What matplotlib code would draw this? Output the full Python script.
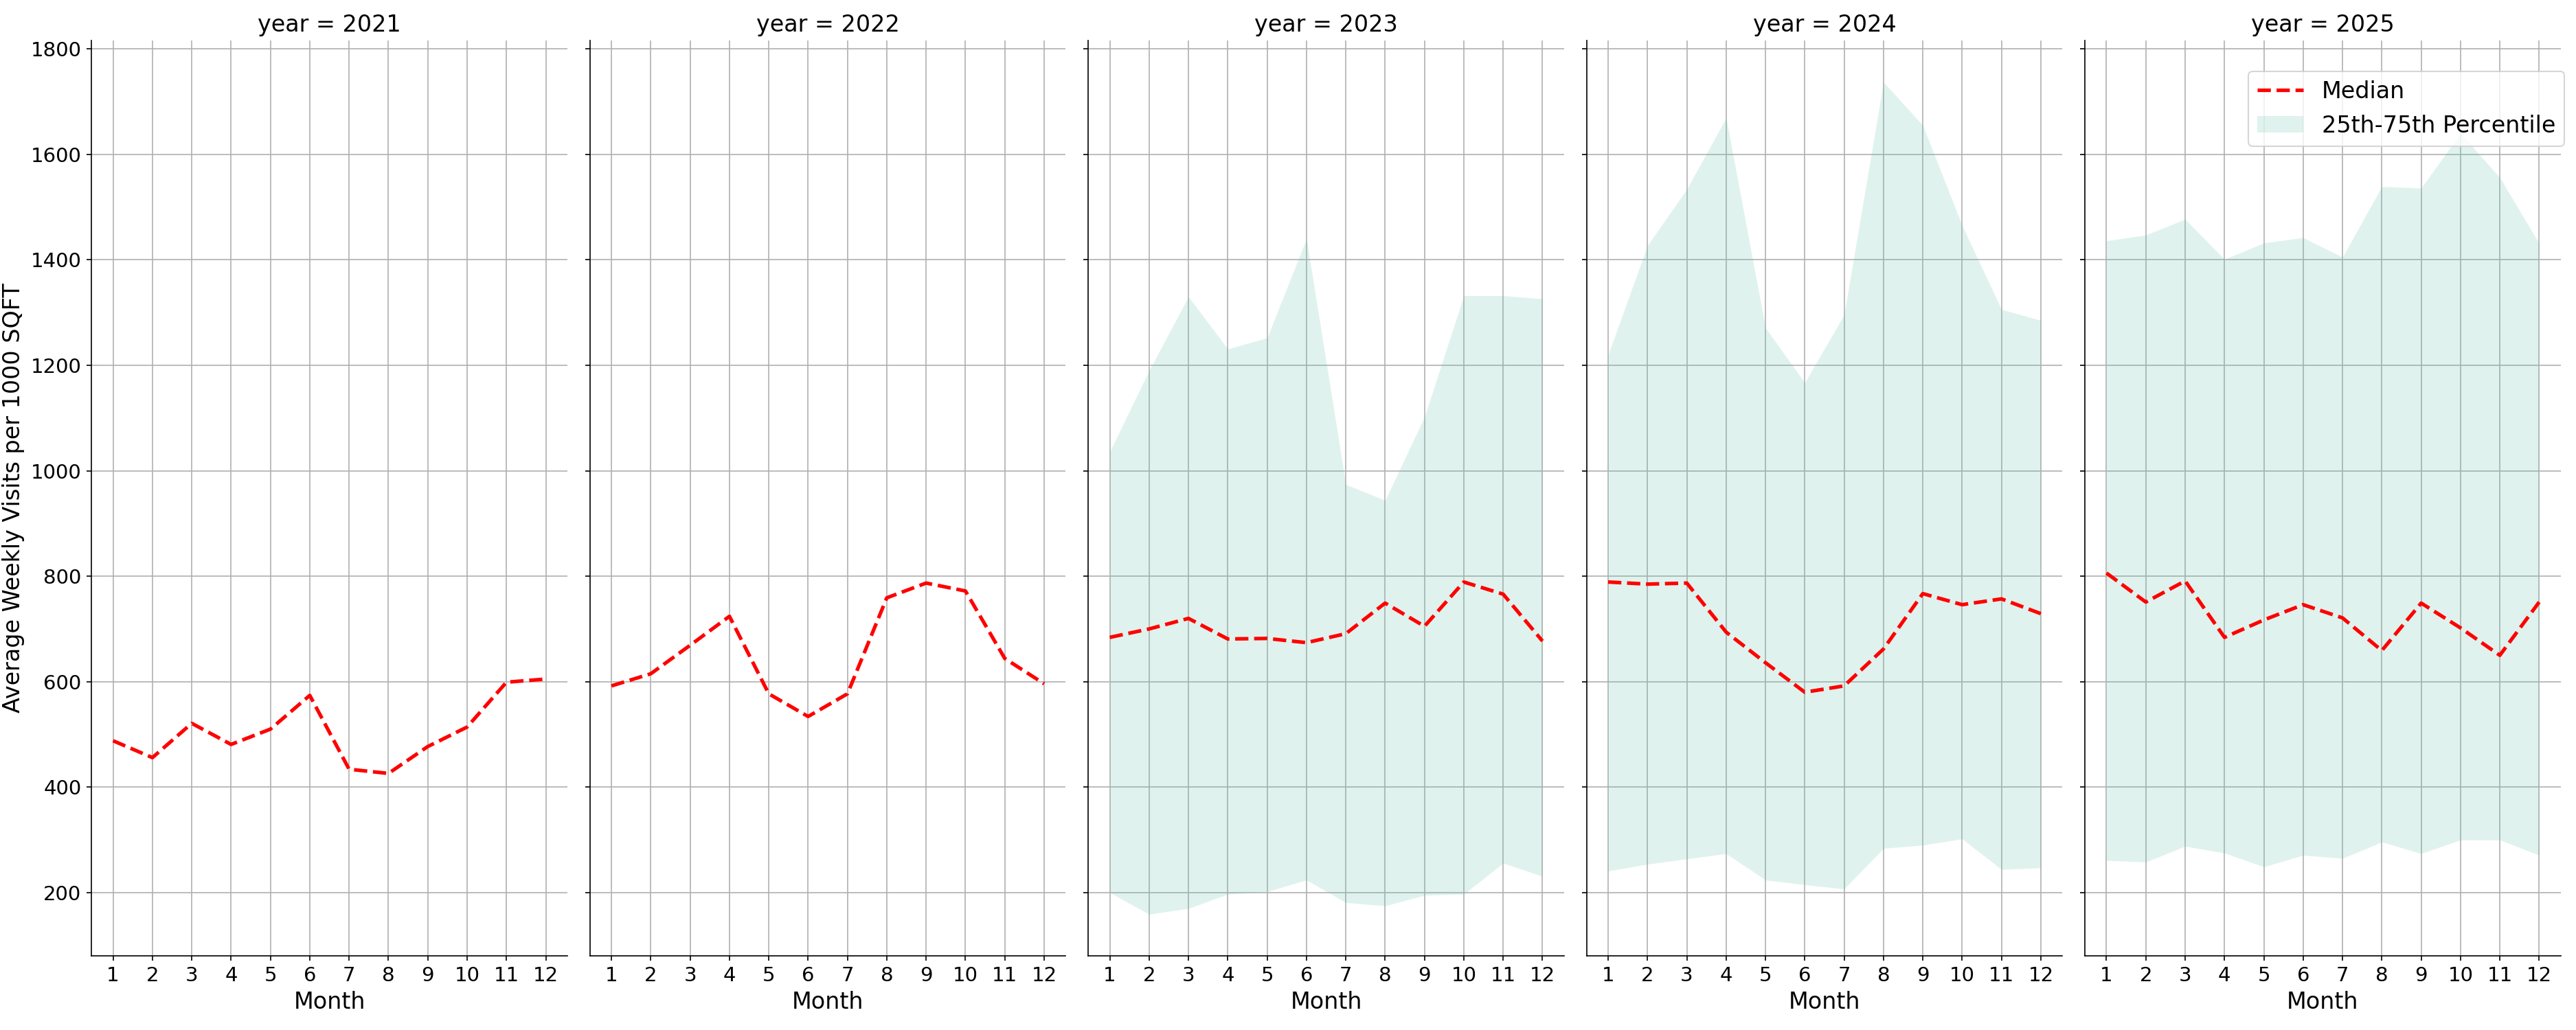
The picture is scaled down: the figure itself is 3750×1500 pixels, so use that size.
import matplotlib
matplotlib.use("Agg")
import matplotlib.pyplot as plt
import numpy as np

months = list(range(1, 13))
years = [2021, 2022, 2023, 2024, 2025]

median_2021 = [488, 456, 521, 481, 510, 574, 434, 426, 477, 514, 599, 605]
median_2022 = [592, 615, 669, 724, 577, 534, 577, 759, 787, 772, 644, 596]
median_2023 = [684, 700, 720, 681, 682, 674, 691, 749, 705, 789, 766, 677]
median_2024 = [789, 785, 787, 694, 636, 580, 592, 662, 767, 746, 757, 729]
median_2025 = [806, 751, 791, 684, 717, 746, 721, 659, 749, 702, 650, 751]

p25_2023 = [200, 159, 170, 197, 202, 224, 181, 175, 195, 197, 256, 231]
p75_2023 = [1036, 1190, 1330, 1231, 1252, 1440, 974, 944, 1102, 1332, 1332, 1326]
p25_2024 = [241, 254, 264, 274, 224, 215, 207, 284, 290, 302, 244, 247]
p75_2024 = [1220, 1427, 1534, 1669, 1271, 1167, 1296, 1737, 1655, 1465, 1306, 1285]
p25_2025 = [261, 258, 288, 275, 249, 271, 265, 296, 274, 300, 300, 271]
p75_2025 = [1436, 1447, 1477, 1401, 1432, 1442, 1405, 1539, 1536, 1640, 1556, 1431]

medians = {2021: median_2021, 2022: median_2022, 2023: median_2023,
           2024: median_2024, 2025: median_2025}
lowers = {2023: p25_2023, 2024: p25_2024, 2025: p25_2025}
uppers = {2023: p75_2023, 2024: p75_2024, 2025: p75_2025}

fig, axes = plt.subplots(1, 5, sharey=True, figsize=(25, 10), dpi=150)
fig.subplots_adjust(left=0.0355, right=0.9941, bottom=0.072, top=0.9607, wspace=0.047)

for ax, yr in zip(axes, years):
    ax.set_axisbelow(True)
    ax.grid(True, color="#b0b0b0", linewidth=0.8)
    if yr in lowers:
        ax.fill_between(months, lowers[yr], uppers[yr], color="#66c2a5",
                        alpha=0.2, linewidth=0, label="25th-75th Percentile")
    ax.plot(months, medians[yr], color="red", linestyle="--", linewidth=2.5,
            label="Median")
    ax.set_title(f"year = {yr}", fontsize=16)
    ax.set_xlabel("Month", fontsize=16)
    ax.set_xticks(months)
    ax.tick_params(axis="both", labelsize=14)
    ax.spines["top"].set_visible(False)
    ax.spines["right"].set_visible(False)

axes[0].set_ylabel("Average Weekly Visits per 1000 SQFT", fontsize=16)

handles, labels = axes[-1].get_legend_handles_labels()
order = [labels.index("Median"), labels.index("25th-75th Percentile")]
fig.legend([handles[i] for i in order], [labels[i] for i in order],
           loc="upper right", bbox_to_anchor=(1.0, 0.942), fontsize=16)

fig.savefig("out.png", dpi=150)
